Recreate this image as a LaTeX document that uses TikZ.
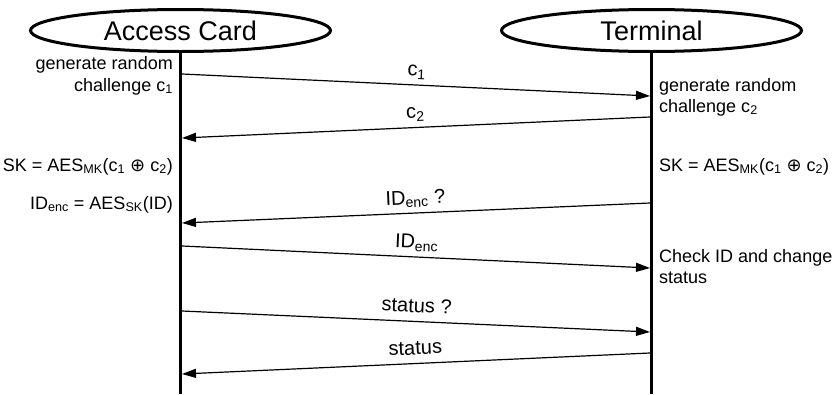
\documentclass[tikz,border=0pt]{standalone}
\usepackage{fontspec}
\setmainfont{Liberation Sans}
\newfontfamily\symfont{DejaVu Sans}
\usetikzlibrary{calc,positioning,shapes.geometric,arrows.meta}

\newcommand{\sub}[1]{\textsubscript{#1}}
\newcommand{\xor}{{\symfont ⊕}}

\tikzset{
	party/.style={shape=ellipse,draw,line width=3pt,inner sep=0pt,minimum width=300pt,minimum height=42pt,font=\fontsize{27pt}{30pt}\selectfont},
	lifeline/.style={line width=3pt},
	msg/.style={line width=1.2pt,-{Triangle[length=14pt,width=9pt]}},
	msglabel/.style={midway,sloped,anchor=base,yshift=9pt,font=\fontsize{20pt}{24pt}\selectfont},
	lnote/.style={anchor=base east,align=right,inner sep=0pt,font=\fontsize{18pt}{22pt}\selectfont},
	rnote/.style={anchor=base west,align=left,inner sep=0pt,font=\fontsize{18pt}{21pt}\selectfont}
}

\begin{document}
\begin{tikzpicture}[x=1pt,y=-1pt]
	\useasboundingbox (0,0) rectangle (833,394);
	% parties and their lifelines
	\node (card) [party] at (180.5,30.5) {Access Card};
	\node (term) [party] at (651.5,30.5) {Terminal};
	\coordinate (cardend) at (card.south |- 0,394);
	\coordinate (termend) at (term.south |- 0,394);
	\draw[lifeline] (card.south) -- (cardend);
	\draw[lifeline] (term.south) -- (termend);

	% message ends on the lifelines
	\coordinate (c1a) at ($(card.south |- 0,74)+(1.5,0)$);
	\coordinate (c1b) at ($(term.south |- 0,96)+(-1.5,0)$);
	\coordinate (c2a) at ($(term.south |- 0,117)+(-1.5,0)$);
	\coordinate (c2b) at ($(card.south |- 0,138)+(1.5,0)$);
	\coordinate (q1a) at ($(term.south |- 0,203)+(-1.5,0)$);
	\coordinate (q1b) at ($(card.south |- 0,223)+(1.5,0)$);
	\coordinate (r1a) at ($(card.south |- 0,246)+(1.5,0)$);
	\coordinate (r1b) at ($(term.south |- 0,268)+(-1.5,0)$);
	\coordinate (q2a) at ($(card.south |- 0,311)+(1.5,0)$);
	\coordinate (q2b) at ($(term.south |- 0,332)+(-1.5,0)$);
	\coordinate (r2a) at ($(term.south |- 0,353)+(-1.5,0)$);
	\coordinate (r2b) at ($(card.south |- 0,374)+(1.5,0)$);

	% messages
	\draw[msg] (c1a) -- (c1b) node [msglabel] {c\sub{1}};
	\draw[msg] (c2a) -- (c2b) node [msglabel] {c\sub{2}};
	\draw[msg] (q1a) -- (q1b) node [msglabel] {ID\sub{enc} ?};
	\draw[msg] (r1a) -- (r1b) node [msglabel] {ID\sub{enc}};
	\draw[msg] (q2a) -- (q2b) node [msglabel] {status ?};
	\draw[msg] (r2a) -- (r2b) node [msglabel] {status};

	% notes beside the card (base is the last line)
	\node (gen1) [lnote] at (173,91) {generate random\\challenge c\sub{1}};
	\node (sk1) [lnote] at (173,171) {SK = AES\sub{MK}(c\sub{1} \xor{} c\sub{2})};
	\node (enc) [lnote] at (173,209) {ID\sub{enc} = AES\sub{SK}(ID)};
	% notes beside the terminal
	\node (gen2) [rnote] at (659,112) {generate random\\challenge c\sub{2}};
	\node (sk2) [rnote] at (659,171) {SK = AES\sub{MK}(c\sub{1} \xor{} c\sub{2})};
	\node (check) [rnote] at (659,283) {Check ID and change\\status};
\end{tikzpicture}
\end{document}
